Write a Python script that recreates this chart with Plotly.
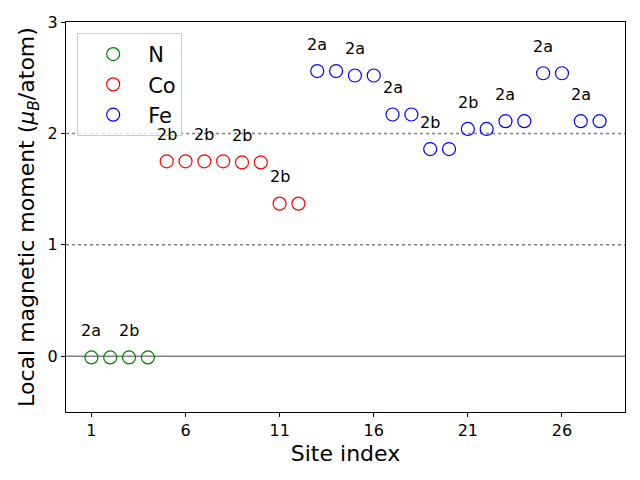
import plotly.graph_objects as go

# Site moments per species
n_sites = [1, 2, 3, 4]
n_mom = [-0.01, -0.01, -0.01, -0.01]

co_sites = [5, 6, 7, 8, 9, 10, 11, 12]
co_mom = [1.75, 1.75, 1.75, 1.75, 1.74, 1.74, 1.37, 1.37]

fe_sites = [13, 14, 15, 16, 17, 18, 19, 20, 21, 22, 23, 24, 25, 26, 27, 28]
fe_mom = [2.56, 2.56, 2.52, 2.52, 2.17, 2.17, 1.86, 1.86,
          2.04, 2.04, 2.11, 2.11, 2.54, 2.54, 2.11, 2.11]

# Wyckoff labels above the first site of each pair
label_sites = [1, 3, 5, 7, 9, 11, 13, 15, 17, 19, 21, 23, 25, 27]
label_text = ["2a", "2b", "2b", "2b", "2b", "2b", "2a",
              "2a", "2a", "2b", "2b", "2a", "2a", "2a"]

FONT = "DejaVu Sans"

fig = go.Figure()

for name, xs, ys, col in [("N", n_sites, n_mom, "green"),
                          ("Co", co_sites, co_mom, "red"),
                          ("Fe", fe_sites, fe_mom, "blue")]:
    fig.add_trace(go.Scatter(
        x=xs, y=ys, mode="markers", name=name,
        marker=dict(symbol="circle-open", size=13, color=col,
                    line=dict(width=1.2, color=col)),
    ))

# reference lines
fig.add_hline(y=0, line=dict(color="gray", width=1.5), layer="below")
fig.add_hline(y=1, line=dict(color="gray", width=1.5, dash="dot"), layer="below")
fig.add_hline(y=2, line=dict(color="gray", width=1.5, dash="dot"), layer="below")

all_sites = n_sites + co_sites + fe_sites
all_mom = n_mom + co_mom + fe_mom
for s, t in zip(label_sites, label_text):
    m = all_mom[all_sites.index(s)]
    fig.add_annotation(x=s, y=m + 0.24, text=t, showarrow=False,
                       font=dict(family=FONT, size=16, color="black"))

axis_common = dict(
    showline=True, linecolor="black", linewidth=1, mirror=True,
    ticks="outside", ticklen=4, tickcolor="black", showgrid=False,
    zeroline=False, automargin=False,
    tickfont=dict(family=FONT, size=16, color="black"),
)

# page body has an 8px margin, so margins are shifted to compensate
fig.update_layout(
    width=640, height=480,
    margin=dict(l=58, r=23, t=14, b=76),
    plot_bgcolor="white", paper_bgcolor="white",
    font=dict(family=FONT, color="black"),
    xaxis=dict(range=[-0.35, 29.35], tickvals=[1, 6, 11, 16, 21, 26],
               title=dict(text="Site index", font=dict(size=22), standoff=6),
               **axis_common),
    yaxis=dict(range=[-0.5, 3], tickvals=[0, 1, 2, 3],
               title=dict(text="Local magnetic moment (<i>μ<sub>B</sub></i>/atom)",
                          font=dict(size=22), standoff=6),
               **axis_common),
    legend=dict(x=0.02, y=0.972, xanchor="left", yanchor="top",
                bgcolor="rgba(255,255,255,0.8)", bordercolor="#cccccc",
                borderwidth=1, font=dict(family=FONT, size=21),
                itemwidth=60),
    showlegend=True,
)

fig.write_html("out.html")
